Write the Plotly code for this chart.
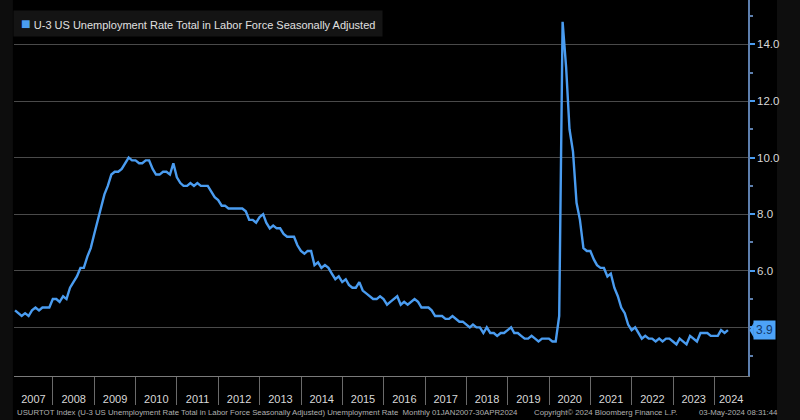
import pandas as pd
import plotly.graph_objects as go

# Monthly U-3 unemployment rate, Jan 2007 - Apr 2024 (%)
rate_2007 = [4.6, 4.5, 4.4, 4.5, 4.4, 4.6, 4.7, 4.6, 4.7, 4.7, 4.7, 5.0]
rate_2008 = [5.0, 4.9, 5.1, 5.0, 5.4, 5.6, 5.8, 6.1, 6.1, 6.5, 6.8, 7.3]
rate_2009 = [7.8, 8.3, 8.7, 9.0, 9.4, 9.5, 9.5, 9.6, 9.8, 10.0, 9.9, 9.9]
rate_2010 = [9.8, 9.8, 9.9, 9.9, 9.6, 9.4, 9.4, 9.5, 9.5, 9.4, 9.8, 9.3]
rate_2011 = [9.1, 9.0, 9.0, 9.1, 9.0, 9.1, 9.0, 9.0, 9.0, 8.8, 8.6, 8.5]
rate_2012 = [8.3, 8.3, 8.2, 8.2, 8.2, 8.2, 8.2, 8.1, 7.8, 7.8, 7.7, 7.9]
rate_2013 = [8.0, 7.7, 7.5, 7.6, 7.5, 7.5, 7.3, 7.2, 7.2, 7.2, 6.9, 6.7]
rate_2014 = [6.6, 6.7, 6.7, 6.2, 6.3, 6.1, 6.2, 6.1, 5.9, 5.7, 5.8, 5.6]
rate_2015 = [5.7, 5.5, 5.4, 5.4, 5.6, 5.3, 5.2, 5.1, 5.0, 5.0, 5.1, 5.0]
rate_2016 = [4.8, 4.9, 5.0, 5.1, 4.8, 4.9, 4.8, 4.9, 5.0, 4.9, 4.7, 4.7]
rate_2017 = [4.7, 4.6, 4.4, 4.4, 4.4, 4.3, 4.3, 4.4, 4.3, 4.2, 4.2, 4.1]
rate_2018 = [4.0, 4.1, 4.0, 4.0, 3.8, 4.0, 3.8, 3.8, 3.7, 3.8, 3.8, 3.9]
rate_2019 = [4.0, 3.8, 3.8, 3.7, 3.6, 3.6, 3.7, 3.6, 3.5, 3.6, 3.6, 3.6]
rate_2020 = [3.5, 3.5, 4.4, 14.8, 13.2, 11.0, 10.2, 8.4, 7.8, 6.8, 6.7, 6.7]
rate_2021 = [6.4, 6.2, 6.1, 6.1, 5.8, 5.9, 5.4, 5.1, 4.7, 4.5, 4.1, 3.9]
rate_2022 = [4.0, 3.8, 3.6, 3.7, 3.6, 3.6, 3.5, 3.6, 3.5, 3.6, 3.6, 3.5]
rate_2023 = [3.4, 3.6, 3.5, 3.4, 3.7, 3.6, 3.5, 3.8, 3.8, 3.8, 3.7, 3.7]
rate_2024 = [3.7, 3.9, 3.8, 3.9]

series_name = "U-3 US Unemployment Rate Total in Labor Force Seasonally Adjusted"
years = list(range(2007, 2025))
y_ticks = [4, 6, 8, 10, 12, 14]
y_tick_text = ["", "6.0", "8.0", "10.0", "12.0", "14.0"]
last_label = "3.9"
footer_left = ("USURTOT Index (U-3 US Unemployment Rate Total in Labor Force Seasonally Adjusted) "
               "Unemployment Rate  Monthly 01JAN2007-30APR2024")
footer_mid = "Copyright\u00a9 2024 Bloomberg Finance L.P."
footer_right = "03-May-2024 08:31:44"

values = (rate_2007 + rate_2008 + rate_2009 + rate_2010 + rate_2011 + rate_2012 +
          rate_2013 + rate_2014 + rate_2015 + rate_2016 + rate_2017 + rate_2018 +
          rate_2019 + rate_2020 + rate_2021 + rate_2022 + rate_2023 + rate_2024)
dates = pd.date_range("2007-01-31", periods=len(values), freq="ME")

x_start = pd.Timestamp("2007-01-22")
x_end = pd.Timestamp("2024-10-24")

# year label positions: centre of the visible part of each year
label_pos = []
for yr in years:
    a = max(pd.Timestamp(f"{yr}-01-01"), x_start)
    b = min(pd.Timestamp(f"{yr + 1}-01-01"), x_end)
    label_pos.append(a + (b - a) / 2)

LINE = "#4a9cf0"
AXIS = "#5d7fae"
fig = go.Figure()
fig.add_trace(go.Scatter(x=dates, y=values, mode="lines",
                         line=dict(color=LINE, width=2.4), showlegend=False,
                         name=series_name))
# invisible trace to carry the year labels axis
fig.add_trace(go.Scatter(x=[x_start, x_end], y=[None, None], xaxis="x2",
                         showlegend=False, hoverinfo="skip"))

fig.update_layout(
    width=800, height=420,
    paper_bgcolor="#000000", plot_bgcolor="#000000",
    margin=dict(l=14, r=52, t=0, b=44, autoexpand=False),
    font=dict(family="Liberation Sans, Arial, sans-serif", color="#d0d0d0"),
    showlegend=False,
    xaxis=dict(type="date", range=[x_start, x_end], automargin=False,
               tickmode="linear", tick0="2007-01-01", dtick="M12",
               ticks="outside", ticklen=28, tickcolor="#6a6a6a", tickwidth=1,
               showticklabels=False, showgrid=False, zeroline=False,
               showline=True, linecolor="#7a7a7a", linewidth=1),
    xaxis2=dict(type="date", range=[x_start, x_end], overlaying="x",
                anchor="y", side="bottom", automargin=False,
                tickmode="array", tickvals=label_pos, ticktext=[str(y) for y in years],
                ticks="outside", ticklen=13, tickcolor="rgba(0,0,0,0)",
                tickfont=dict(size=11, color="#d8d8d8"),
                showgrid=False, zeroline=False, showline=False),
    yaxis=dict(side="right", range=[2.28, 15.57], automargin=False,
               tickmode="array", tickvals=y_ticks, ticktext=y_tick_text,
               ticks="outside", ticklen=5, tickcolor=LINE, tickwidth=2,
               tickfont=dict(size=11.5, color="#d8d8d8"),
               showgrid=True, gridcolor="#4a4a4a", gridwidth=1,
               zeroline=False, showline=True, linecolor=AXIS, linewidth=1.5,
               minor=dict(tickvals=[3, 5, 7, 9, 11, 13, 15], ticks="outside",
                          ticklen=3, tickcolor=AXIS, showgrid=False)),
)

# side strips of the terminal frame
fig.add_shape(type="rect", xref="paper", yref="paper", x0=1.0395, x1=1.08,
              y0=-0.2, y1=1.05, fillcolor="#0e0e0e", line_width=0, layer="below")
fig.add_shape(type="rect", xref="paper", yref="paper", x0=-0.03, x1=-0.0015,
              y0=-0.2, y1=1.05, fillcolor="#0d0d0d", line_width=0, layer="below")

# legend box
fig.add_annotation(xref="paper", yref="paper", x=-0.0015, y=0.973, xanchor="left",
                   yanchor="top", showarrow=False, align="left",
                   text=(f"&nbsp;<span style='color:{LINE};font-size:16px'>\u25a0</span>"
                         f"&nbsp;{series_name}&nbsp;"),
                   bgcolor="#141414", borderpad=4,
                   font=dict(size=11, color="#e0e0e0"))

# last value label with pointer
last = values[-1]
fig.add_annotation(xref="paper", yref="y", x=1, y=last, xanchor="left",
                   xshift=5, text=last_label, showarrow=False,
                   bgcolor="#4da3f8", font=dict(size=12, color="#12386a"),
                   borderpad=2)
fig.add_shape(type="path", xref="paper", yref="y", fillcolor="#4da3f8", line_width=0,
              path=f"M 1.002 {last} L 1.008 {last + 0.27} L 1.008 {last - 0.27} Z")

fig.add_annotation(xref="paper", yref="paper", x=0.0015, y=0, yshift=-36, xanchor="left",
                   yanchor="middle", text=footer_left, showarrow=False,
                   font=dict(size=7.8, color="#b0b0b0"))
fig.add_annotation(xref="paper", yref="paper", x=0.7055, y=0, yshift=-36, xanchor="left",
                   yanchor="middle", text=footer_mid, showarrow=False,
                   font=dict(size=7.8, color="#b0b0b0"))
fig.add_annotation(xref="paper", yref="paper", x=0.93, y=0, yshift=-36, xanchor="left",
                   yanchor="middle", text=footer_right, showarrow=False,
                   font=dict(size=7.8, color="#b0b0b0"))

fig.write_html("out.html", config={"displayModeBar": False},
               post_script="document.body.style.margin='0';"
                           "document.body.style.background='#000';")
